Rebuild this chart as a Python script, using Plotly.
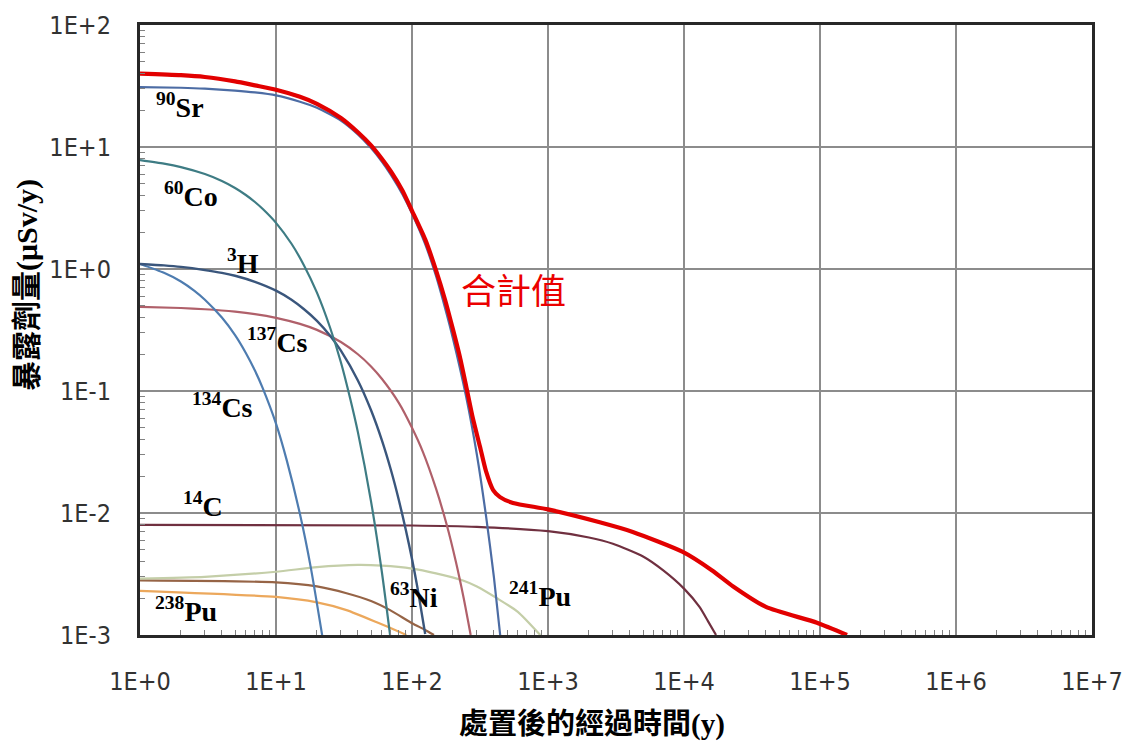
import plotly.graph_objects as go

# Elapsed time after disposal (y) and exposure dose (μSv/y) for each nuclide
sr90_t = [1, 2, 3, 5, 7, 10, 15, 20, 30, 40, 50, 60, 70, 85, 100, 125, 150, 175, 200,
          250, 300, 350, 400, 445]
sr90_d = [31, 30.6, 30.1, 29, 28, 26.5, 23.5, 21, 16.5, 12.7, 9.8, 7.6, 5.9, 4.1, 2.85,
          1.6, 0.88, 0.48, 0.27, 0.09, 0.03, 0.0095, 0.003, 0.001]

co60_t = [1, 1.5, 2, 3, 4, 5, 6, 7, 8, 10, 13, 16, 20, 25, 30, 35, 40, 50, 60, 69]
co60_d = [7.8, 7.3, 6.84, 6.0, 5.26, 4.61, 4.04, 3.54, 3.1, 2.39, 1.61, 1.08, 0.64, 0.33,
          0.172, 0.088, 0.046, 0.0124, 0.0033, 0.001]

h3_t = [1, 1.5, 2, 3, 4, 5, 7, 10, 13, 16, 20, 25, 30, 40, 50, 60, 70, 80, 90, 100, 110, 125]
h3_d = [1.1, 1.07, 1.04, 0.98, 0.93, 0.88, 0.785, 0.665, 0.56, 0.47, 0.376, 0.284, 0.214,
        0.122, 0.0695, 0.0396, 0.0225, 0.0128, 0.0073, 0.0042, 0.0024, 0.00102]

cs134_t = [1, 1.5, 2, 2.5, 3, 4, 5, 6, 7, 8, 10, 12, 15, 18, 22]
cs134_d = [1.1, 0.93, 0.79, 0.665, 0.56, 0.40, 0.287, 0.205, 0.147, 0.105, 0.054, 0.027,
           0.0098, 0.0036, 0.00095]

cs137_t = [1, 2, 3, 5, 7, 10, 15, 20, 30, 40, 50, 60, 80, 100, 120, 150, 180, 210, 240, 270]
cs137_d = [0.49, 0.479, 0.468, 0.447, 0.427, 0.398, 0.355, 0.317, 0.252, 0.2, 0.159, 0.126,
           0.08, 0.05, 0.0319, 0.0159, 0.008, 0.004, 0.002, 0.001]

c14_t = [1, 100, 300, 1000, 2000, 3000, 5000, 7000, 10000, 13000, 15000, 17200]
c14_d = [0.008, 0.0079, 0.0077, 0.0071, 0.0063, 0.0056, 0.0044, 0.0034, 0.0024, 0.0017,
         0.0013, 0.001]

pu241_t = [1, 3, 10, 20, 40, 60, 100, 150, 237, 300, 422, 600, 877]
pu241_d = [0.0029, 0.0030, 0.0033, 0.0036, 0.00375, 0.0037, 0.0035, 0.0032, 0.0028, 0.0025,
           0.002, 0.00155, 0.001]

ni63_t = [1, 10, 20, 33, 50, 69, 100, 125, 145]
ni63_d = [0.0028, 0.0027, 0.0025, 0.0022, 0.0019, 0.0016, 0.00125, 0.0011, 0.001]

pu238_t = [1, 10, 20, 33, 58, 75, 91]
pu238_d = [0.0023, 0.00205, 0.00185, 0.0016, 0.00124, 0.0011, 0.001]

total_t = [1, 2, 3, 5, 7, 10, 15, 20, 30, 40, 50, 60, 70, 85, 100, 125, 150, 175, 200, 225,
           250, 280, 316, 350, 394, 444, 553, 1000, 2400, 4200, 9800, 16000, 23000, 40000,
           95000, 158000]
total_d = [40, 38.8, 37.5, 34.5, 32, 29.5, 25.8, 22.6, 17.3, 13.2, 10.3, 8.0, 6.3, 4.4,
           3.0, 1.75, 0.98, 0.56, 0.32, 0.19, 0.11, 0.06, 0.035, 0.022, 0.0155, 0.0135,
           0.0121, 0.0107, 0.0084, 0.0070, 0.0048, 0.0034, 0.0025, 0.0017, 0.00126, 0.001]

x_ticks = [1, 10, 100, 1e3, 1e4, 1e5, 1e6, 1e7]
x_labels = ["1E+0", "1E+1", "1E+2", "1E+3", "1E+4", "1E+5", "1E+6", "1E+7"]
y_ticks = [1e-3, 1e-2, 1e-1, 1, 10, 100]
y_labels = ["1E-3", "1E-2", "1E-1", "1E+0", "1E+1", "1E+2"]

series = [
    (pu238_t, pu238_d, "rgb(236,168,92)", 2.2),
    (ni63_t, ni63_d, "rgb(150,100,70)", 2.2),
    (pu241_t, pu241_d, "rgb(196,206,168)", 2.2),
    (c14_t, c14_d, "rgb(112,48,64)", 2.2),
    (cs137_t, cs137_d, "rgb(176,96,106)", 2.2),
    (cs134_t, cs134_d, "rgb(78,124,176)", 2.2),
    (h3_t, h3_d, "rgb(58,86,124)", 2.4),
    (co60_t, co60_d, "rgb(62,124,132)", 2.2),
    (sr90_t, sr90_d, "rgb(76,108,164)", 2.2),
    (total_t, total_d, "rgb(226,0,0)", 4.2),
]

fig = go.Figure()
for t, d, color, w in series:
    fig.add_trace(go.Scatter(
        x=t, y=d, mode="lines",
        line=dict(color=color, width=w, shape="spline", smoothing=0.6),
        showlegend=False, hoverinfo="skip",
    ))

L, R, T, B = 140, 1092, 25, 635


def paper(px, py):
    return (px - L) / (R - L), (B - py) / (B - T)


nuclide_font = dict(family="Liberation Serif, Times New Roman, serif", size=28, color="black")
labels = [
    ("<b><sup>90</sup>Sr</b>", 180, 105),
    ("<b><sup>60</sup>Co</b>", 191, 195),
    ("<b><sup>3</sup>H</b>", 243, 261),
    ("<b><sup>137</sup>Cs</b>", 277, 340),
    ("<b><sup>134</sup>Cs</b>", 222, 405),
    ("<b><sup>14</sup>C</b>", 203, 504),
    ("<b><sup>238</sup>Pu</b>", 186, 609),
    ("<b><sup>63</sup>Ni</b>", 414, 595),
    ("<b><sup>241</sup>Pu</b>", 540, 594),
]
annotations = []
for text, px, py in labels:
    ax_, ay_ = paper(px, py)
    annotations.append(dict(text=text, x=ax_, y=ay_, xref="paper", yref="paper",
                            showarrow=False, font=nuclide_font,
                            xanchor="center", yanchor="middle"))

tx, ty = paper(513, 289)
annotations.append(dict(text="合計值", x=tx, y=ty, xref="paper", yref="paper",
                        showarrow=False, xanchor="center", yanchor="middle",
                        font=dict(family="Noto Sans CJK TC", size=35, color="rgb(235,0,0)")))

xt, yt = paper(592, 724)
annotations.append(dict(text="<b>處置後的經過時間(y)</b>", x=xt, y=yt, xref="paper", yref="paper",
                        showarrow=False, xanchor="center", yanchor="middle",
                        font=dict(family="Liberation Serif, Noto Sans CJK TC", size=29, color="black")))

xt, yt = paper(27, 285)
annotations.append(dict(text="<b>暴露劑量(μSv/y)</b>", x=xt, y=yt, xref="paper", yref="paper",
                        showarrow=False, xanchor="center", yanchor="middle", textangle=-90,
                        font=dict(family="Liberation Serif, Noto Sans CJK TC", size=30, color="black")))

tick_font = dict(family="Liberation Sans Narrow, DejaVu Sans Condensed, Liberation Sans",
                 size=25, color="rgb(50,50,50)")
grid = "rgb(140,140,140)"

# minor tick positions at 2..9 within each decade
x_minor = [k * 10 ** n for n in range(0, 7) for k in range(2, 10)]
y_minor = [k * 10.0 ** n for n in range(-3, 2) for k in range(2, 10)]

fig.update_layout(
    width=1130, height=742, autosize=False,
    margin=dict(l=L, r=1130 - R, t=T, b=742 - B, autoexpand=False),
    paper_bgcolor="white", plot_bgcolor="white",
    annotations=annotations,
    xaxis=dict(type="log", range=[0, 7], tickvals=x_ticks, ticktext=x_labels,
               tickfont=tick_font, ticks="", ticklabelstandoff=22, automargin=False,
               showgrid=True, gridcolor=grid, gridwidth=2,
               showline=True, linecolor="rgb(40,40,40)", linewidth=3, mirror=True,
               minor=dict(tickmode="array", tickvals=x_minor, ticks="inside", ticklen=5,
                          tickcolor="rgb(130,130,130)", tickwidth=1, showgrid=False),
               zeroline=False),
    yaxis=dict(type="log", range=[-3, 2], tickvals=y_ticks, ticktext=y_labels,
               tickfont=tick_font, ticks="", ticklabelstandoff=21, automargin=False,
               showgrid=True, gridcolor=grid, gridwidth=2,
               showline=True, linecolor="rgb(40,40,40)", linewidth=3, mirror=True,
               minor=dict(tickmode="array", tickvals=y_minor, ticks="inside", ticklen=5,
                          tickcolor="rgb(130,130,130)", tickwidth=1, showgrid=False),
               zeroline=False),
)

fig.write_html("out.html")
